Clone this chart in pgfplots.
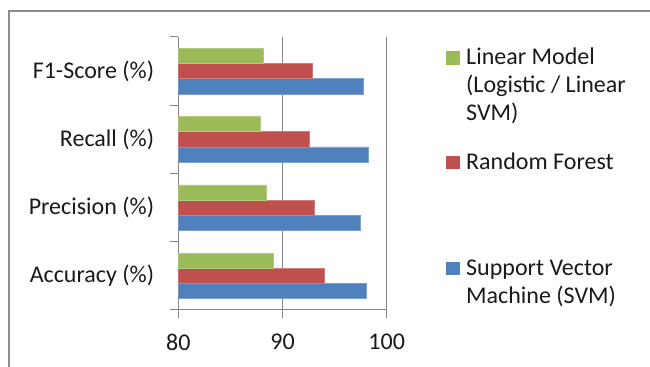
\documentclass[border=0pt]{standalone}
\usepackage{fontspec}
\setmainfont{Carlito}
\usepackage{pgfplots}
\pgfplotsset{compat=1.18}
\definecolor{svmblue}{HTML}{4F81BD}
\definecolor{rfred}{HTML}{C0504D}
\definecolor{lmgreen}{HTML}{9BBB59}
\definecolor{gridgray}{HTML}{868686}
\definecolor{framegray}{HTML}{8C8C8C}
\definecolor{txt}{HTML}{1A1A1A}
\begin{document}
\begin{tikzpicture}[font=\fontsize{24bp}{28bp}\selectfont]
\useasboundingbox (0,0) rectangle (650bp,367bp);
\draw[framegray, line width=2bp] (9bp,-2bp) -- (9bp,356bp) -- (652bp,356bp);
\begin{axis}[
  at={(178.3bp,57bp)}, anchor=south west,
  scale only axis, width=208.4bp, height=273bp,
  xbar, bar width=15.2bp,
  xmin=80, xmax=100, ymin=-0.5, ymax=3.5,
  xtick={80,90,100},
  xmajorgrids, grid style={gridgray, line width=1bp},
  axis lines*=left,
  axis line style={gridgray, line width=1bp},
  tick style={gridgray, line width=1bp},
  tick align=outside, major tick length=8bp,
  ytick={-0.5,0.5,1.5,2.5,3.5}, yticklabels={},
  extra y ticks={0,1,2,3},
  extra y tick labels={Accuracy (\%),Precision (\%),Recall (\%),F1-Score (\%)},
  extra y tick style={major tick length=0pt},
  yticklabel style={anchor=east, inner sep=0pt, xshift=-24bp, text=txt},
  xticklabel style={anchor=center, inner sep=0pt, yshift=-24bp, text=txt},
  /pgf/number format/assume math mode=true,
  tick label style={font=\fontsize{24bp}{28bp}\selectfont},
]
\addplot[fill=svmblue, draw=svmblue!75!white, line width=0.6bp, bar shift=-15.2bp]
  coordinates {(98.0,0) (97.5,1) (98.2,2) (97.8,3)};
\addplot[fill=rfred, draw=rfred!75!white, line width=0.6bp, bar shift=0bp]
  coordinates {(94.0,0) (93.05,1) (92.6,2) (92.85,3)};
\addplot[fill=lmgreen, draw=lmgreen!75!white, line width=0.6bp, bar shift=15.2bp]
  coordinates {(89.1,0) (88.4,1) (87.9,2) (88.15,3)};
\end{axis}
% legend
\fill[lmgreen] (446bp,302bp) rectangle (460bp,315.5bp);
\node[anchor=base west, inner sep=0pt, text=txt] at (466bp,302bp) {Linear Model};
\node[anchor=base west, inner sep=0pt, text=txt] at (466bp,274bp) {(Logistic / Linear};
\node[anchor=base west, inner sep=0pt, text=txt] at (466bp,246.5bp) {SVM)};
\fill[rfred] (446bp,198bp) rectangle (460bp,211.3bp);
\node[anchor=base west, inner sep=0pt, text=txt] at (466bp,197.7bp) {Random Forest};
\fill[svmblue] (446bp,92bp) rectangle (460bp,105.3bp);
\node[anchor=base west, inner sep=0pt, text=txt] at (466bp,91.3bp) {Support Vector};
\node[anchor=base west, inner sep=0pt, text=txt] at (466bp,63bp) {Machine (SVM)};
\end{tikzpicture}
\end{document}
